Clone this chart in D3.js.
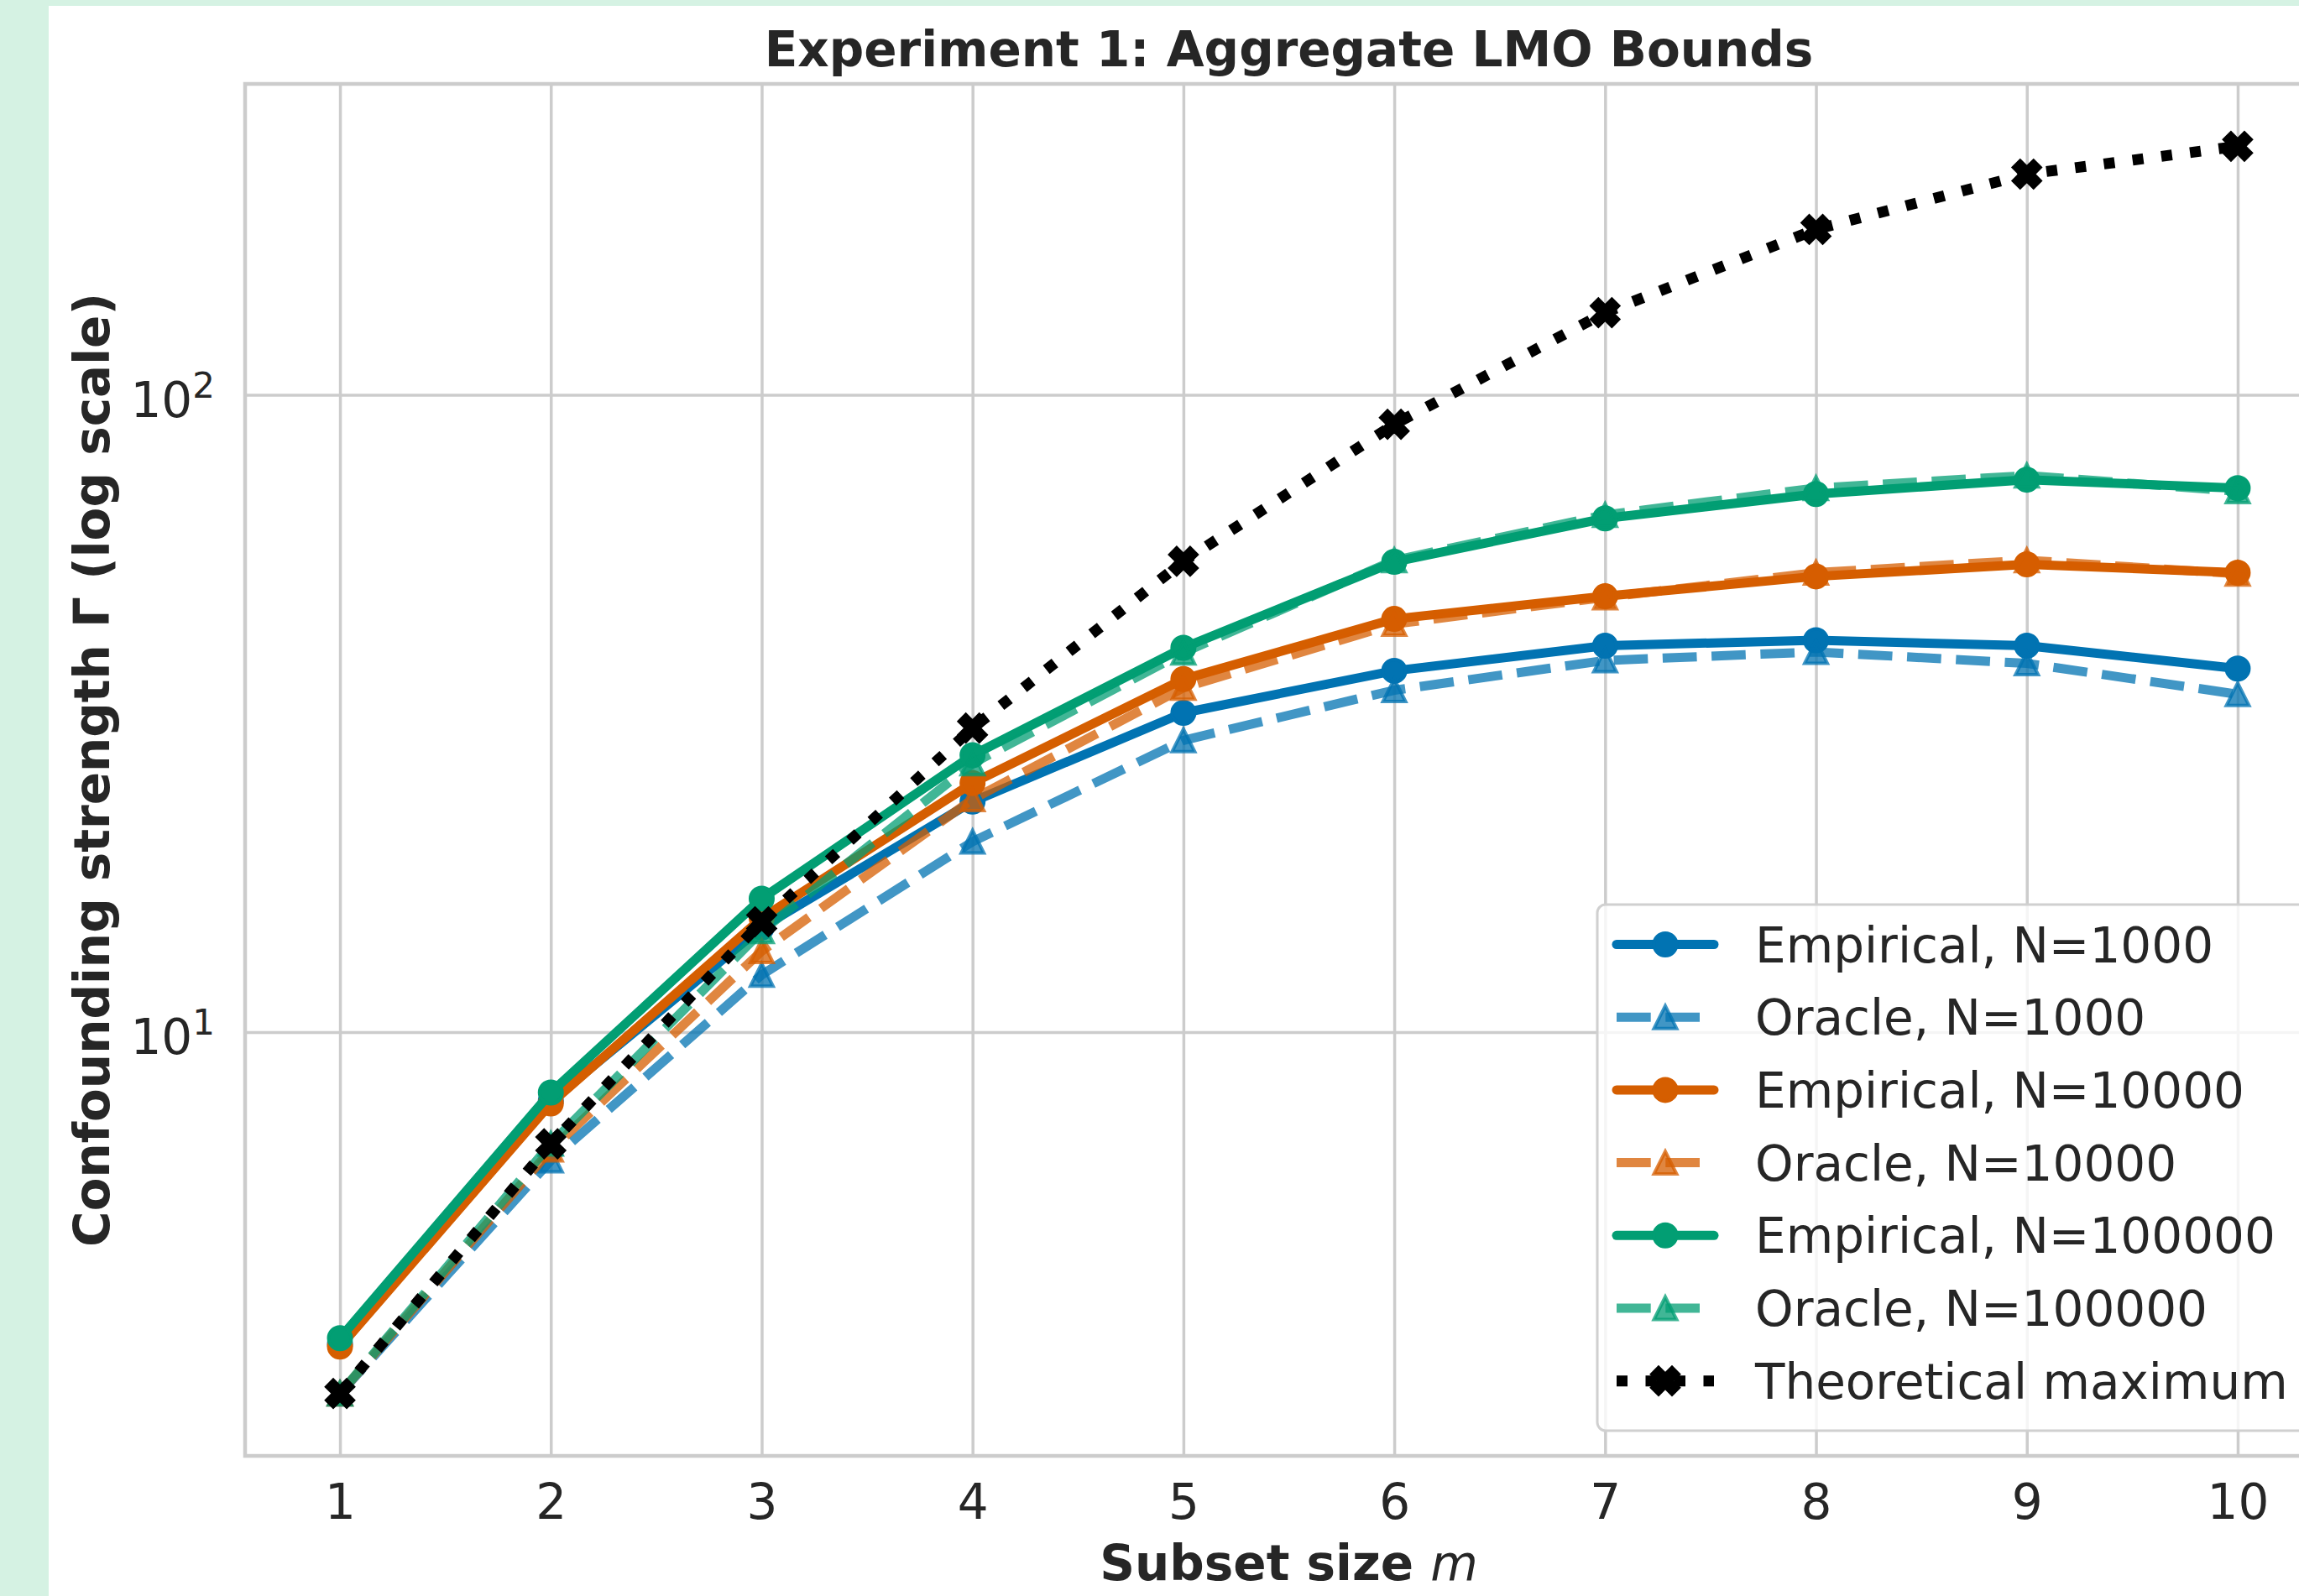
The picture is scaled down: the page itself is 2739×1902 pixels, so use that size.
<!DOCTYPE html>
<html>
<head>
<meta charset="utf-8">
<script src="https://cdn.jsdelivr.net/npm/d3@7"></script>
<style>
  body { margin: 0; background: #ffffff; }
  svg { display: block; }
</style>
</head>
<body>
<svg></svg>
<script>
const WIDTH = 2739;
const HEIGHT = 1902;

// data
const subsetSizes = [1, 2, 3, 4, 5, 6, 7, 8, 9, 10];
const empiricalN1000 = [3.24, 7.80, 14.6, 23.0, 31.7, 36.9, 40.4, 41.2, 40.4, 37.2];
const oracleN1000 = [2.71, 6.29, 12.3, 19.9, 28.7, 34.4, 38.3, 39.5, 37.9, 33.9];
const empiricalN10000 = [3.21, 7.73, 15.1, 24.6, 35.8, 44.5, 48.3, 51.9, 54.2, 52.6];
const oracleN10000 = [2.71, 6.54, 13.4, 23.2, 34.7, 43.7, 48.1, 52.6, 55.0, 52.4];
const empiricalN100000 = [3.31, 8.04, 16.2, 27.2, 40.1, 54.7, 64.0, 69.9, 73.6, 71.4];
const oracleN100000 = [2.71, 6.68, 14.4, 26.4, 39.4, 55.0, 64.8, 71.4, 74.7, 70.6];
const theoreticalMax = [2.71, 6.68, 14.9, 30.0, 54.8, 89.9, 134.6, 181.8, 222.0, 245.5];

const seriesLabels = [
    "Empirical, N=1000", "Oracle, N=1000",
    "Empirical, N=10000", "Oracle, N=10000",
    "Empirical, N=100000", "Oracle, N=100000",
    "Theoretical maximum"
];
const yTickValues = [10, 100];
const yTickExponents = ["1", "2"];

const BLUE = "#0173b2";
const ORANGE = "#d55e00";
const GREEN = "#029e73";
const TEXT = "#262626";
const FONT = "DejaVu Sans, sans-serif";

const MEW = 4;      // marker edge width

const series = [
    { values: empiricalN1000, color: BLUE, alpha: 1, lw: 11, dash: null, marker: "circle", ms: 27 },
    { values: oracleN1000, color: BLUE, alpha: 0.75, lw: 11, dash: "40.7,17.6", marker: "triangle", ms: 27 },
    { values: empiricalN10000, color: ORANGE, alpha: 1, lw: 11, dash: null, marker: "circle", ms: 27 },
    { values: oracleN10000, color: ORANGE, alpha: 0.75, lw: 11, dash: "40.7,17.6", marker: "triangle", ms: 27 },
    { values: empiricalN100000, color: GREEN, alpha: 1, lw: 11, dash: null, marker: "circle", ms: 27 },
    { values: oracleN100000, color: GREEN, alpha: 0.75, lw: 11, dash: "40.7,17.6", marker: "triangle", ms: 27 },
    { values: theoreticalMax, color: "#000000", alpha: 1, lw: 13, dash: "13,21.5", marker: "x", ms: 32 }
];

function markerPath(kind, ms) {
    const h = ms / 2;
    if (kind === "triangle") {
        return `M0,${-h}L${-h},${h}L${h},${h}Z`;
    }
    if (kind === "x") {
        const unit = [[0.25, 0], [0.5, 0.25], [0.75, 0], [1, 0.25], [0.75, 0.5], [1, 0.75],
                      [0.75, 1], [0.5, 0.75], [0.25, 1], [0, 0.75], [0.25, 0.5], [0, 0.25]];
        return "M" + unit.map(p => [(p[0] - 0.5) * ms, (p[1] - 0.5) * ms].join(",")).join("L") + "Z";
    }
    return null;
}

function drawMarker(g, s, cx, cy) {
    if (s.marker === "circle") {
        g.append("circle")
            .attr("cx", cx).attr("cy", cy).attr("r", s.ms / 2)
            .style("fill", s.color).style("fill-opacity", s.alpha)
            .style("stroke", s.color).style("stroke-opacity", s.alpha)
            .style("stroke-width", MEW);
    } else {
        g.append("path")
            .attr("d", markerPath(s.marker, s.ms))
            .attr("transform", `translate(${cx},${cy})`)
            .style("fill", s.color).style("fill-opacity", s.alpha)
            .style("stroke", s.color).style("stroke-opacity", s.alpha)
            .style("stroke-width", MEW)
            .style("stroke-linejoin", "miter");
    }
}

function drawChart(svg) {
    const left = 292, right = 2779, top = 100, bottom = 1735;

    svg.attr("width", WIDTH).attr("height", HEIGHT);

    svg.append("rect").attr("width", WIDTH).attr("height", HEIGHT).style("fill", "#d5f2e3");
    svg.append("rect").attr("x", 58).attr("y", 7)
        .attr("width", WIDTH - 58).attr("height", HEIGHT - 7).style("fill", "#ffffff");

    // matplotlib style 5% margins, log on y
    const allValues = series.flatMap(s => s.values);
    const lo = Math.log10(d3.min(allValues)), hi = Math.log10(d3.max(allValues));
    const pad = (hi - lo) * 0.05;

    const x = d3.scaleLinear()
        .domain([1 - 0.45, 10 + 0.45])
        .range([left, right]);

    const y = d3.scaleLog()
        .domain([Math.pow(10, lo - pad), Math.pow(10, hi + pad)])
        .range([bottom, top]);

    // grid
    const grid = svg.append("g");
    grid.append("g")
        .attr("transform", `translate(0,${bottom})`)
        .call(d3.axisBottom(x).tickValues(subsetSizes).tickSize(-(bottom - top)).tickFormat(""))
        .call(g => g.select(".domain").remove());
    grid.append("g")
        .attr("transform", `translate(${left},0)`)
        .call(d3.axisLeft(y).tickValues(yTickValues).tickSize(-(right - left)).tickFormat(""))
        .call(g => g.select(".domain").remove());
    grid.selectAll("line").style("stroke", "#cccccc").style("stroke-width", 3.5);

    // frame
    svg.append("rect")
        .attr("x", left).attr("y", top)
        .attr("width", right - left).attr("height", bottom - top)
        .style("fill", "none").style("stroke", "#cccccc").style("stroke-width", 4.5);

    // x tick labels
    const xAxis = svg.append("g")
        .attr("transform", `translate(0,${bottom})`)
        .call(d3.axisBottom(x).tickValues(subsetSizes).tickSize(0).tickPadding(34).tickFormat(d3.format("d")));
    xAxis.select(".domain").remove();
    xAxis.selectAll("text")
        .style("font-family", FONT).style("font-size", "58px").style("fill", TEXT);

    // y tick labels as 10^n
    const yLabels = svg.append("g");
    yTickValues.forEach((v, i) => {
        const t = yLabels.append("text")
            .attr("x", 256)
            .attr("y", y(v) + 26)
            .attr("text-anchor", "end")
            .style("font-family", FONT).style("font-size", "58px").style("fill", TEXT);
        t.append("tspan").text("10");
        t.append("tspan").attr("dy", -23).style("font-size", "42px").text(yTickExponents[i]);
    });

    // lines and markers
    const line = d3.line()
        .x((d, i) => x(subsetSizes[i]))
        .y(d => y(d));

    series.forEach(s => {
        const g = svg.append("g");
        g.append("path")
            .datum(s.values)
            .attr("d", line)
            .style("fill", "none")
            .style("stroke", s.color)
            .style("stroke-opacity", s.alpha)
            .style("stroke-width", s.lw)
            .style("stroke-dasharray", s.dash)
            .style("stroke-linecap", s.dash ? "butt" : "round")
            .style("stroke-linejoin", "round");
        s.values.forEach((v, i) => drawMarker(g, s, x(subsetSizes[i]), y(v)));
    });

    // title and axis labels
    svg.append("text")
        .attr("x", (left + right) / 2).attr("y", 79)
        .attr("text-anchor", "middle")
        .style("font-family", FONT).style("font-size", "58px").style("font-weight", "bold").style("fill", TEXT)
        .text("Experiment 1: Aggregate LMO Bounds");

    const xLabel = svg.append("text")
        .attr("x", (left + right) / 2).attr("y", 1883)
        .attr("text-anchor", "middle")
        .style("font-family", FONT).style("font-size", "58px").style("fill", TEXT);
    xLabel.append("tspan").style("font-weight", "bold").text("Subset size ");
    xLabel.append("tspan").style("font-style", "italic").text("m");

    svg.append("text")
        .attr("transform", `translate(130,${(top + bottom) / 2}) rotate(-90)`)
        .attr("text-anchor", "middle")
        .style("font-family", FONT).style("font-size", "58px").style("font-weight", "bold").style("fill", TEXT)
        .text("Confounding strength \u0393 (log scale)");

    // legend, lower right
    const legend = svg.append("g");
    legend.append("rect")
        .attr("x", 1903).attr("y", 1078)
        .attr("width", 2750 - 1903).attr("height", 1705 - 1078)
        .attr("rx", 10).attr("ry", 10)
        .style("fill", "#ffffff").style("fill-opacity", 0.8)
        .style("stroke", "#d0d0d0").style("stroke-width", 3);

    series.forEach((s, i) => {
        const rowY = 1125.5 + i * 86.7;
        const row = legend.append("g");
        row.append("line")
            .attr("x1", 1926).attr("x2", 2042)
            .attr("y1", rowY).attr("y2", rowY)
            .style("stroke", s.color)
            .style("stroke-opacity", s.alpha)
            .style("stroke-width", s.lw)
            .style("stroke-dasharray", s.dash)
            .style("stroke-linecap", s.dash ? "butt" : "round");
        drawMarker(row, s, 1984, rowY);
        row.append("text")
            .attr("x", 2091).attr("y", rowY + 21)
            .style("font-family", FONT).style("font-size", "58px").style("fill", TEXT)
            .text(seriesLabels[i]);
    });
}

function onReady() {
    const selection = d3.select("svg");
    drawChart(selection);
}

document.addEventListener("DOMContentLoaded", onReady);
</script>
</body>
</html>
